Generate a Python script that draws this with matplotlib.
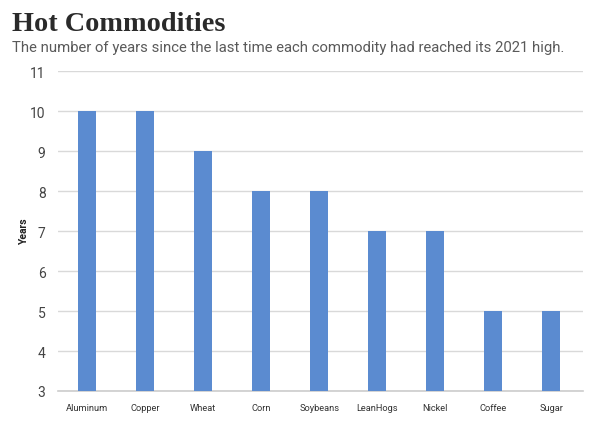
import matplotlib
matplotlib.use("Agg")
import matplotlib.pyplot as plt

categories = ["Aluminum", "Copper", "Wheat", "Corn", "Soybeans", "LeanHogs", "Nickel", "Coffee", "Sugar"]
years = [10, 10, 9, 8, 8, 7, 7, 5, 5]
yticks = [3, 4, 5, 6, 7, 8, 9, 10, 11]

fig = plt.figure(figsize=(6, 4.27), dpi=100)
ax = fig.add_axes([0.0967, 0.082, 0.8753, 0.749])

x = list(range(len(categories)))
ax.bar(x, [v - 3 for v in years], bottom=3, width=0.31, color="#5B8BD0", zorder=3)
ax.set_xlim(-0.5, len(categories) - 0.5 + 0.05)
ax.set_ylim(3, 11)
ax.set_yticks(yticks)
ax.set_yticklabels([str(t) for t in yticks], fontsize=10, color="#444444", family="Roboto")
ax.set_xticks(x)
ax.set_xticklabels(categories, fontsize=6.7, color="#333333", family="Roboto")
ax.tick_params(axis="both", length=0)
ax.tick_params(axis="y", pad=9)
ax.tick_params(axis="x", pad=9)
ax.grid(axis="y", color="#d9d9d9", linewidth=1, zorder=0)
for s in ["top", "right", "left"]:
    ax.spines[s].set_visible(False)
ax.spines["bottom"].set_color("#cccccc")
ax.spines["bottom"].set_linewidth(1.2)
ax.set_ylabel("Years", fontsize=7.5, fontweight="bold", family="Roboto", color="#222222")
ax.yaxis.set_label_coords(-0.055, 0.5)

fig.text(0.02, 0.927, "Hot Commodities", fontsize=20.3, fontweight="bold", family="Liberation Serif", color="#2a2a2a")
fig.text(0.02, 0.879, "The number of years since the last time each commodity had reached its 2021 high.",
         fontsize=10.7, family="Roboto", color="#5a5a5a")

fig.savefig("out.png", dpi=100)
